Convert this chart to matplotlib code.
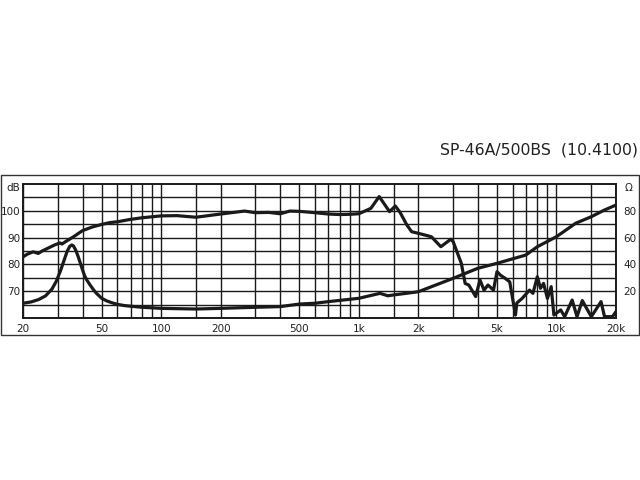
import matplotlib
matplotlib.use("Agg")
import matplotlib.pyplot as plt
from matplotlib.patches import Rectangle

# SPL curve (dB)
spl_freq = [20, 21, 22.5, 23.9, 25, 27, 29, 30.8, 31.5, 33, 36, 40, 45, 50, 55, 60, 70, 80,
            100, 120, 150, 200, 264, 300, 350, 400, 448, 500, 600, 700, 800, 900, 1000,
            1150, 1268, 1430, 1530, 1620, 1750, 1850, 2000, 2150, 2330, 2600, 2920, 3000,
            3300, 3450, 3600, 3900, 4100, 4300, 4500, 4800, 5000, 5200, 5500, 5800, 6200,
            6300, 6700, 7300, 7600, 8000, 8300, 8600, 9000, 9400, 9700, 10500, 11000,
            12000, 12700, 13500, 15000, 16800, 17500, 19200, 20000]
spl_db = [82.8, 83.8, 84.7, 84.1, 85.0, 86.2, 87.3, 88.0, 87.6, 88.6, 90.3, 92.6, 94.0, 94.9,
          95.6, 95.9, 96.8, 97.4, 98.1, 98.2, 97.6, 98.8, 99.9, 99.3, 99.4, 98.9, 99.9, 99.8,
          99.3, 98.8, 98.6, 98.7, 98.9, 100.9, 105.3, 99.7, 101.8, 99.3, 94.7, 92.2, 91.6,
          91.0, 90.3, 86.6, 89.4, 88.5, 80.4, 72.9, 72.3, 68.0, 74.2, 70.4, 72.3, 70.4,
          77.3, 76.0, 74.8, 73.5, 61.1, 65.6, 67.3, 70.4, 69.2, 75.4, 71.1, 72.9, 67.3,
          71.7, 61.1, 63.0, 60.5, 66.7, 60.5, 66.5, 60.5, 66.1, 60.5, 60.5, 62.4]

# impedance curve (ohm)
imp_freq = [20, 22, 24, 26, 28, 29.5, 31, 32.6, 33.5, 34.5, 35.3, 36, 37, 38, 40, 41, 42,
            43.7, 45.5, 47, 50, 53, 56, 60, 65, 70, 80, 100, 150, 200, 300, 400, 500, 600,
            700, 1000, 1280, 1400, 1500, 2000, 3000, 4000, 5000, 7000, 8000, 10000, 12500,
            15000, 17500, 20000]
imp_ohm = [11.0, 12.0, 13.8, 16.5, 21.5, 27.5, 35.5, 45.0, 50.0, 53.5, 54.5, 53.8, 50.5, 46.0,
           36.0, 31.5, 28.5, 24.6, 21.0, 18.5, 14.7, 12.8, 11.5, 10.2, 9.3, 8.8, 8.0, 7.2,
           6.7, 7.2, 8.0, 8.5, 10.4, 11.0, 12.2, 14.7, 18.4, 16.6, 17.2, 19.6, 29.6, 37.1,
           40.8, 47.0, 53.2, 60.7, 70.7, 75.6, 80.6, 84.3]

grid_freq = [20, 30, 40, 50, 60, 70, 80, 90, 100, 150, 200, 300, 400, 500, 600, 700, 800, 900,
             1000, 1500, 2000, 3000, 4000, 5000, 6000, 7000, 8000, 9000, 10000, 15000, 20000]
x_ticks = [20, 50, 100, 200, 500, 1000, 2000, 5000, 10000, 20000]
x_labels = ['20', '50', '100', '200', '500', '1k', '2k', '5k', '10k', '20k']
db_ticks = [70, 80, 90, 100]
ohm_ticks = [20, 40, 60, 80]

ink = '#1a1a1a'
fig = plt.figure(figsize=(6.4, 4.8), dpi=100)
ax = fig.add_axes([23/640, 1-318/480, 593/640, 134/480])

# outer frame
fig.patches.append(Rectangle((1/640, 1-335/480), 638/640, 160/480, transform=fig.transFigure,
                             fill=False, edgecolor='#333333', lw=1.0))

ax.set_xscale('log')
ax.set_xlim(20, 20000)
ax.set_ylim(60, 110)
for f in grid_freq:
    ax.axvline(f, color=ink, lw=1.0, zorder=1)
for v in range(65, 110, 5):
    ax.axhline(v, color=ink, lw=1.0, zorder=1)

ax.plot(spl_freq, spl_db, color=ink, lw=2.3, zorder=3, solid_joinstyle='round', solid_capstyle='round')

ax2 = ax.twinx()
ax2.set_ylim(0, 100)
ax2.plot(imp_freq, imp_ohm, color=ink, lw=2.3, zorder=3, solid_joinstyle='round', solid_capstyle='round')

ax.set_xticks(x_ticks)
ax.set_xticklabels(x_labels)
ax.xaxis.set_minor_locator(plt.NullLocator())
ax.set_yticks(db_ticks)
ax2.set_yticks(ohm_ticks)
ax.tick_params(axis='both', length=0, labelsize=7.5, colors='#222222')
ax.tick_params(axis='y', pad=2)
ax.tick_params(axis='x', pad=4)
ax2.tick_params(axis='y', length=0, labelsize=7.5, colors='#222222', pad=5)
for a in (ax, ax2):
    for s in a.spines.values():
        s.set_color(ink)
        s.set_linewidth(1.2)

ax.text(-0.005, 0.97, 'dB', transform=ax.transAxes, ha='right', va='center', fontsize=7.5, color='#222222')
ax2.text(1.015, 0.97, 'Ω', transform=ax2.transAxes, ha='left', va='center', fontsize=7.5, color='#222222')

fig.text(638/640, 1-150/480, 'SP-46A/500BS  (10.4100)', ha='right', va='center', fontsize=11.3, color='#222222')

fig.savefig('out.png', dpi=100)
